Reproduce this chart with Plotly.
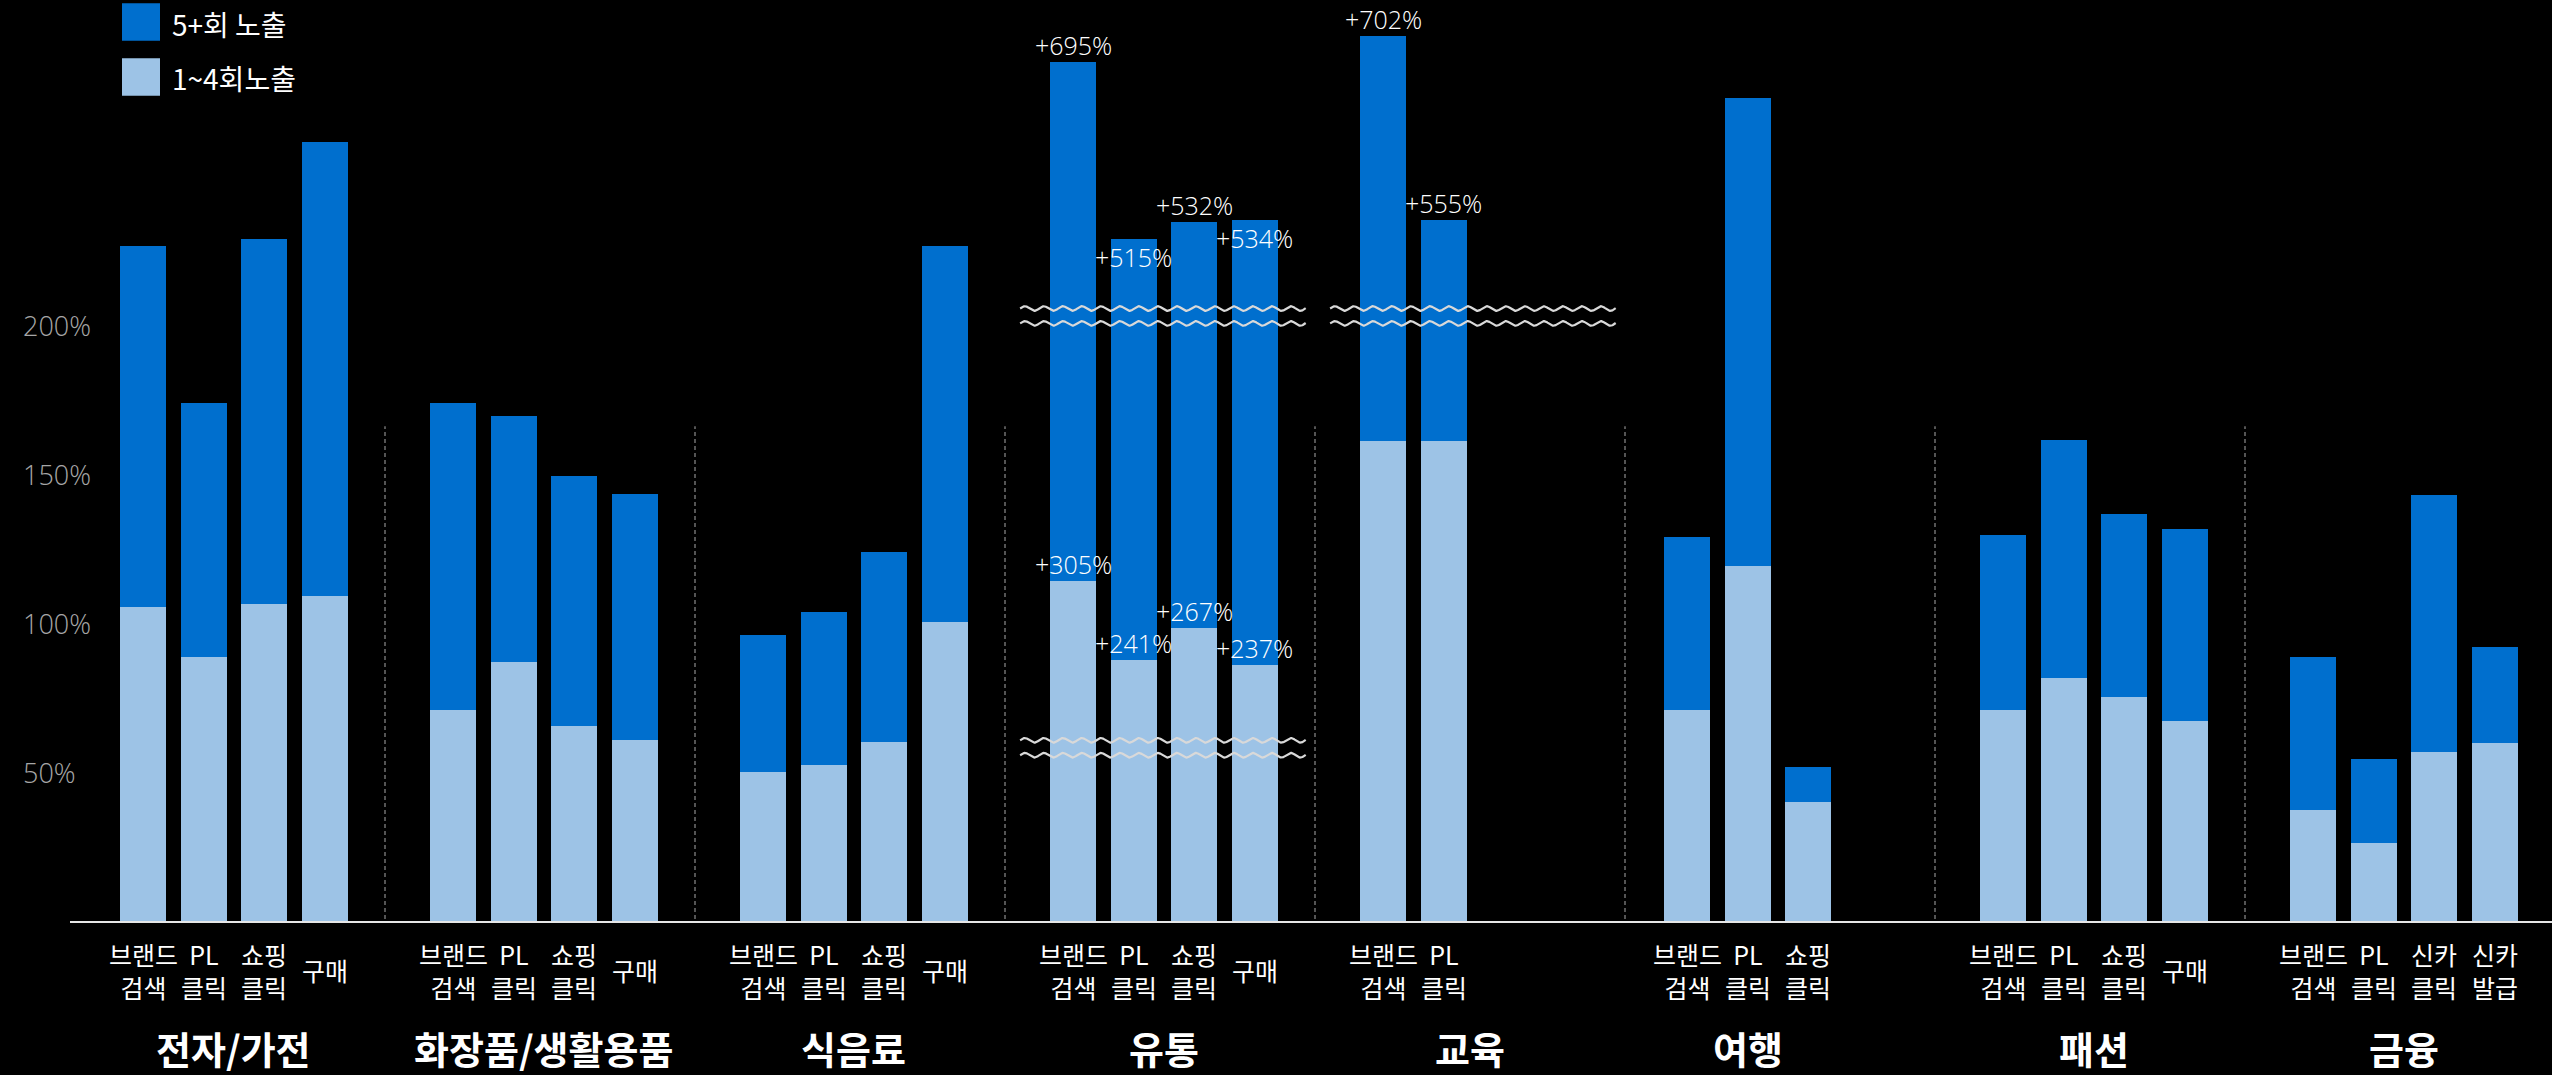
import numpy as np
import plotly.graph_objects as go

# ---------------------------------------------------------------- data
groups = ["전자/가전", "화장품/생활용품", "식음료", "유통", "교육", "여행", "패션", "금융"]

steps = [
    ["브랜드<br>검색", "PL<br>클릭", "쇼핑<br>클릭", "구매"],
    ["브랜드<br>검색", "PL<br>클릭", "쇼핑<br>클릭", "구매"],
    ["브랜드<br>검색", "PL<br>클릭", "쇼핑<br>클릭", "구매"],
    ["브랜드<br>검색", "PL<br>클릭", "쇼핑<br>클릭", "구매"],
    ["브랜드<br>검색", "PL<br>클릭"],
    ["브랜드<br>검색", "PL<br>클릭", "쇼핑<br>클릭"],
    ["브랜드<br>검색", "PL<br>클릭", "쇼핑<br>클릭", "구매"],
    ["브랜드<br>검색", "PL<br>클릭", "신카<br>클릭", "신카<br>발급"],
]

# lift (%) after 5+ exposures
lift_5plus = [
    [227.0, 174.3, 229.3, 261.9],
    [174.2, 169.9, 149.8, 143.7],
    [96.4, 104.1, 124.3, 227.1],
    [695, 515, 532, 534],
    [702, 555],
    [129.3, 276.8, 52.0],
    [129.9, 161.9, 137.0, 131.9],
    [89.0, 54.8, 143.3, 92.3],
]

# lift (%) after 1~4 exposures
lift_1to4 = [
    [105.9, 89.0, 106.8, 109.6],
    [71.2, 87.3, 65.8, 61.1],
    [50.5, 52.7, 60.4, 100.8],
    [305, 241, 267, 237],
    [161.5, 161.5],
    [71.3, 119.5, 40.3],
    [71.3, 81.9, 75.6, 67.5],
    [37.7, 26.6, 57.1, 60.1],
]

series_names = ["5+회 노출", "1~4회노출"]
y_ticks = [50, 100, 150, 200]

# groups whose values are printed on the bars (5+ series, 1~4 series)
labelled = {"유통": (True, True), "교육": (True, False)}

# broken value axis: (value from, axis position, scale) segments per group
axis_breaks = {
    "유통": [(0, 0.0, 1.0), (176.5, 61.0, 0.4175), (444, 206.0, 0.33)],
    "교육": [(0, 0.0, 1.0), (484.3, 206.0, 0.42)],
}


def to_axis(group, v):
    segs = axis_breaks.get(group, [(0, 0.0, 1.0)])
    start, base, k = [s for s in segs if v >= s[0]][-1]
    return base + (v - start) * k


# ---------------------------------------------------------------- style
W, H = 2552, 1075
BG = "#000000"
DARK = "#006FCE"
LIGHT = "#9DC3E6"
CJK = "Noto Sans CJK KR"
LATIN_LIGHT = "Open Sans"

GROUP_SPAN = 310 / 60.5     # width of one category block (bar pitch = 1)
FIRST = 68 / 60.5           # first bar offset inside a block
BAR_W = 46 / 60.5
X_RANGE = [-75 / 60.5, (W - 75) / 60.5]
PX_PER_PCT = 2.978
Y0_PX = 922
Y_RANGE = [-(H - Y0_PX) / PX_PER_PCT, Y0_PX / PX_PER_PCT]

block_nudge = {"여행": -6 / 60.5}           # small shift of a whole block
inside_label_bars = {("유통", 1), ("유통", 3)}  # value printed just under the bar top
group_label_on_block = {"교육"}

value_font = dict(family=LATIN_LIGHT, size=25, color="white", weight=300)

# ---------------------------------------------------------------- build
xs, dark_y, light_y = [], [], []
annotations = []
step_ann, group_ann, value_ann = [], [], []

for g, grp in enumerate(groups):
    bar_x = []
    for i, lab in enumerate(steps[g]):
        x = g * GROUP_SPAN + FIRST + i + block_nudge.get(grp, 0.0)
        bar_x.append(x)
        v5, v1 = lift_5plus[g][i], lift_1to4[g][i]
        d5, d1 = to_axis(grp, v5), to_axis(grp, v1)
        xs.append(x)
        dark_y.append(d5)
        light_y.append(d1)
        show5, show1 = labelled.get(grp, (False, False))
        if show5:
            inside = (grp, i) in inside_label_bars
            value_ann.append(dict(x=x, y=d5, text=f"+{v5:.0f}%",
                                  yanchor="top" if inside else "bottom",
                                  yshift=1 if inside else -2))
        if show1:
            value_ann.append(dict(x=x, y=d1, text=f"+{v1:.0f}%",
                                  yanchor="bottom", yshift=-2))
        step_ann.append(dict(x=x, y=-16.2, text=lab))
    if grp in group_label_on_block:
        gx = g * GROUP_SPAN + GROUP_SPAN / 2
    else:
        gx = float(np.mean(bar_x))
    group_ann.append(dict(x=gx, y=-42.2, text=grp))

fig = go.Figure()

fig.add_trace(go.Bar(
    x=xs, y=dark_y, width=BAR_W, marker=dict(color=DARK, line=dict(width=0)),
    name=series_names[0], hoverinfo="skip", showlegend=False,
))
fig.add_trace(go.Bar(
    x=xs, y=light_y, width=BAR_W, marker=dict(color=LIGHT, line=dict(width=0)),
    name=series_names[1], hoverinfo="skip", showlegend=False,
))

# wavy break marks across the broken blocks
WAVE_PERIOD = 19 / 60.5
WAVE_AMP = 2.3 / PX_PER_PCT
for grp, segs in axis_breaks.items():
    g = groups.index(grp)
    x0 = g * GROUP_SPAN + 0.25
    x1 = g * GROUP_SPAN + 4.97
    wx = np.linspace(x0, x1, 600)
    for _, base, _ in segs[1:]:
        for level in (base, base - 5):
            fig.add_trace(go.Scatter(
                x=wx, y=level + WAVE_AMP * np.sin(2 * np.pi * (wx - x0) / WAVE_PERIOD),
                mode="lines", line=dict(color="#d9d9d9", width=2.2),
                hoverinfo="skip", showlegend=False,
            ))

shapes = []
# dashed separators between categories
for g in range(1, len(groups)):
    shapes.append(dict(type="line", xref="x", yref="y",
                       x0=g * GROUP_SPAN, x1=g * GROUP_SPAN, y0=1, y1=166.5,
                       line=dict(color="#8c8c8c", width=1.2, dash="4px,3px"),
                       layer="below"))
# baseline
shapes.append(dict(type="line", xref="x", yref="y",
                   x0=-5 / 60.5, x1=X_RANGE[1], y0=0, y1=0,
                   line=dict(color="#e6e6e6", width=2)))


def px_x(p):
    return p / W


def px_y(p):
    return 1 - p / H


# legend swatches and names
legend_rows = [(3.3, 40.7, DARK, 24), (58.3, 95.7, LIGHT, 78)]
for (top, bot, col, mid), name in zip(legend_rows, series_names):
    shapes.append(dict(type="rect", xref="paper", yref="paper",
                       x0=px_x(122), x1=px_x(160), y0=px_y(bot), y1=px_y(top),
                       fillcolor=col, line=dict(width=0)))
    annotations.append(dict(xref="paper", yref="paper", x=px_x(170), y=px_y(mid),
                            xanchor="left", yanchor="middle", showarrow=False,
                            text=name, font=dict(family=CJK, size=28, color="white")))

for a in value_ann:
    annotations.append(dict(xref="x", yref="y", x=a["x"], y=a["y"], text=a["text"],
                            xanchor="center", yanchor=a["yanchor"], yshift=a["yshift"],
                            showarrow=False, font=value_font))
for a in step_ann:
    annotations.append(dict(xref="x", yref="y", x=a["x"], y=a["y"], text=a["text"],
                            xanchor="center", yanchor="middle", showarrow=False,
                            align="center",
                            font=dict(family=CJK, size=25, color="white")))
for a in group_ann:
    annotations.append(dict(xref="x", yref="y", x=a["x"], y=a["y"], text=a["text"],
                            xanchor="center", yanchor="middle", showarrow=False,
                            font=dict(family=CJK, size=38, color="white", weight="bold")))

fig.update_layout(
    width=W, height=H,
    margin=dict(l=0, r=0, t=0, b=0),
    paper_bgcolor=BG, plot_bgcolor=BG,
    barmode="overlay", bargap=0,
    shapes=shapes, annotations=annotations,
    showlegend=False,
    xaxis=dict(range=X_RANGE, visible=False, fixedrange=True),
    yaxis=dict(range=Y_RANGE, tickvals=y_ticks, ticktext=[f"{t}%" for t in y_ticks],
               ticklabelposition="inside", ticks="", ticklabelstandoff=20,
               showgrid=False, zeroline=False, showline=False,
               tickfont=dict(family=LATIN_LIGHT, size=27, color="#a6a6a6", weight=300),
               fixedrange=True),
)

fig.write_html("out.html")
